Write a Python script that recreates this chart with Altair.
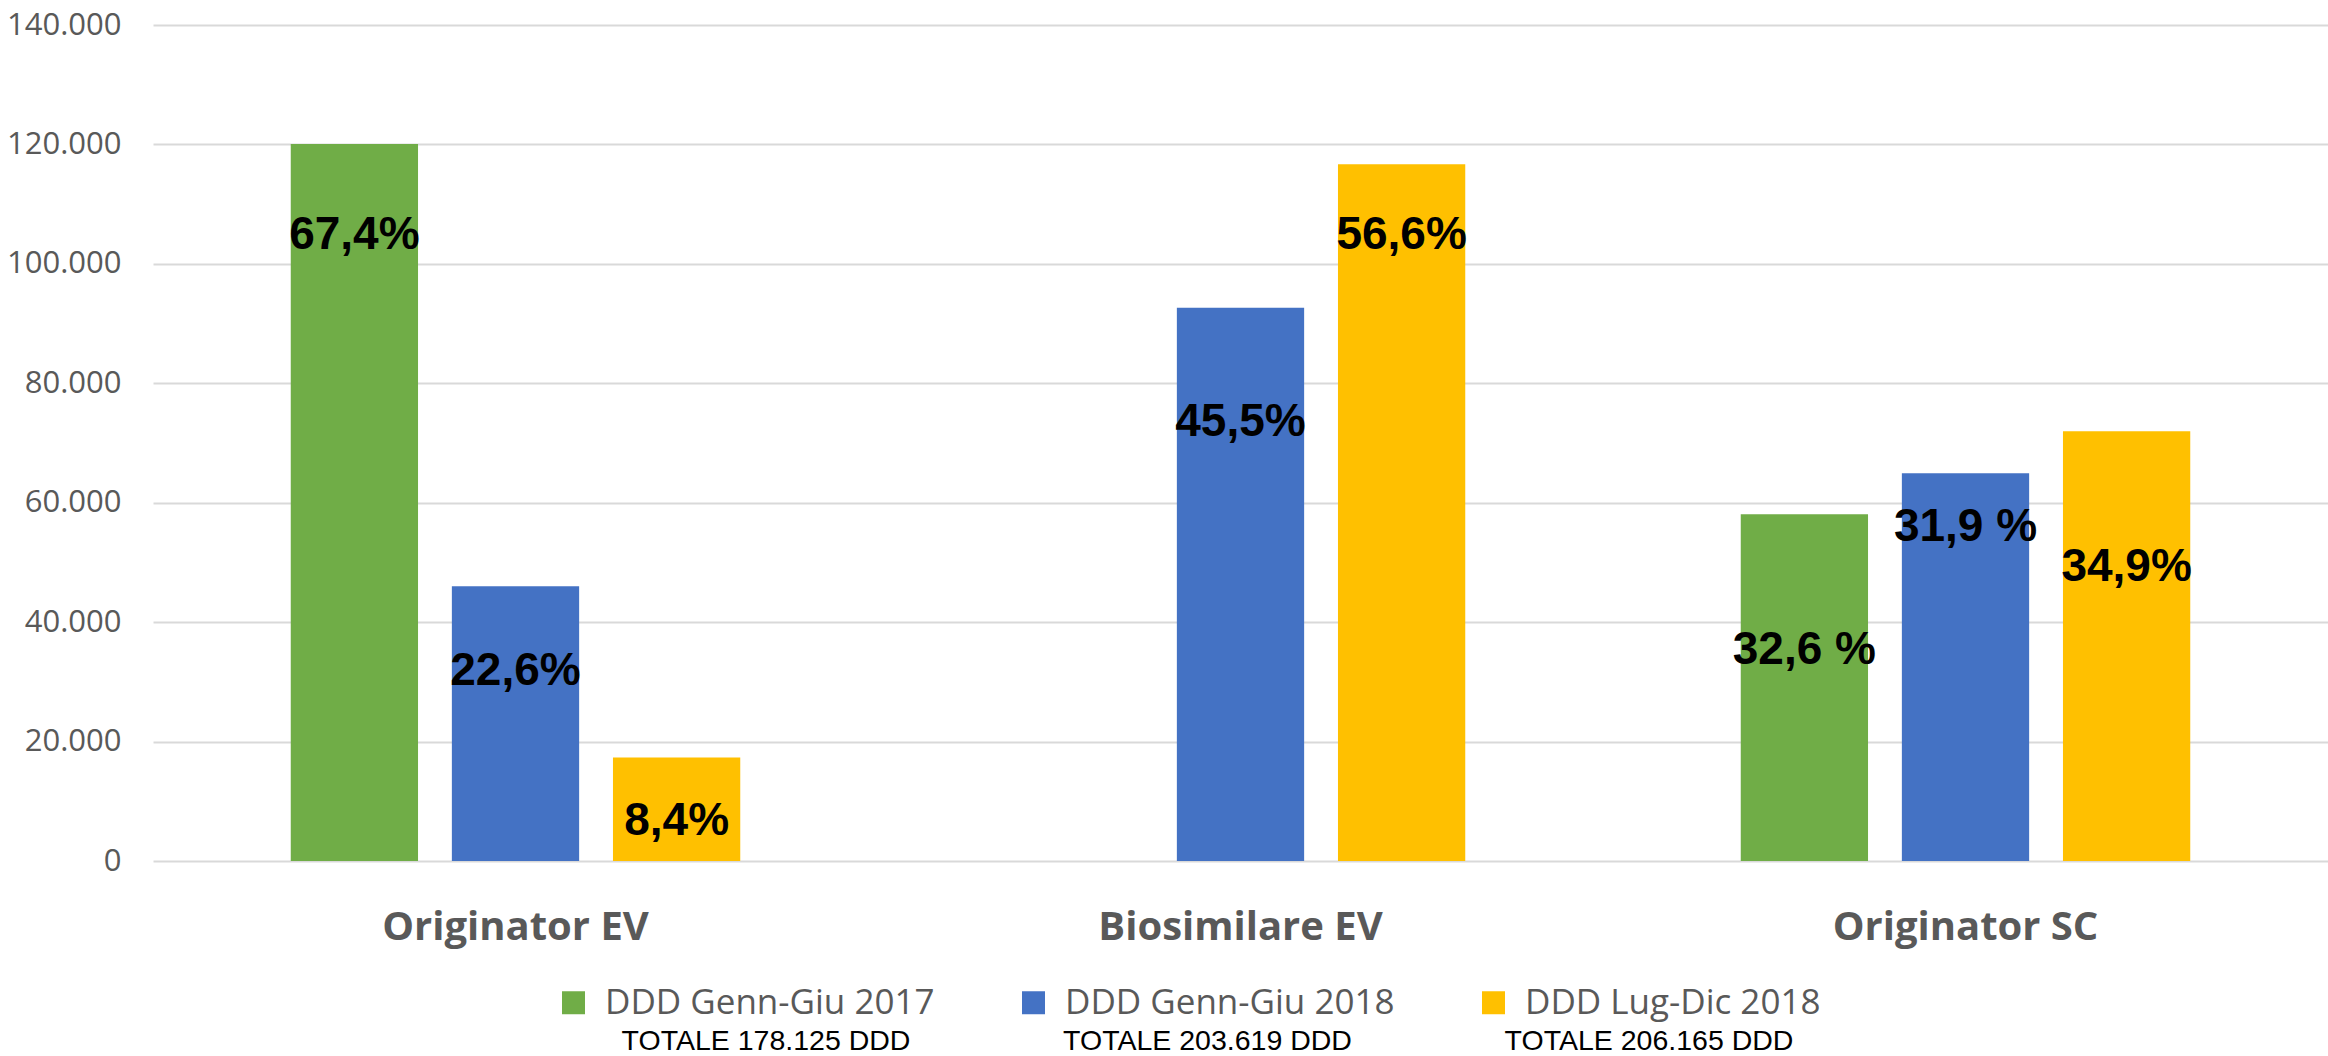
import altair as alt
import pandas as pd

# Categories on the x axis and the three DDD periods
categories = ["Originator EV", "Biosimilare EV", "Originator SC"]
series = ["DDD Genn-Giu 2017", "DDD Genn-Giu 2018", "DDD Lug-Dic 2018"]
colors = ["#70AD47", "#4472C4", "#FFC000"]

# Total DDD per period
totals = [178125, 203619, 206165]

# Share of each period's total per category (None = no consumption)
pct_2017 = [67.4, None, 32.6]
pct_2018_h1 = [22.6, 45.5, 31.9]
pct_2018_h2 = [8.4, 56.6, 34.9]

# Percentage labels as printed
lab_2017 = ["67,4%", None, "32,6 %"]
lab_2018_h1 = ["22,6%", "45,5%", "31,9 %"]
lab_2018_h2 = ["8,4%", "56,6%", "34,9%"]

# DDD level at which each percentage label sits
lev_2017 = [104800, None, 35300]
lev_2018_h1 = [31800, 73500, 55900]
lev_2018_h2 = [6700, 104800, 49200]

rows = []
for name, total, pcts, labs, levs in zip(
    series,
    totals,
    [pct_2017, pct_2018_h1, pct_2018_h2],
    [lab_2017, lab_2018_h1, lab_2018_h2],
    [lev_2017, lev_2018_h1, lev_2018_h2],
):
    for cat, p, lab, lev in zip(categories, pcts, labs, levs):
        if p is None:
            continue
        rows.append(
            {"category": cat, "series": name, "ddd": p / 100 * total,
             "label": lab, "level": lev}
        )
df = pd.DataFrame(rows)

tot_df = pd.DataFrame({
    "series": series,
    "text": [f"TOTALE {t:,} DDD".replace(",", ".") for t in totals],
})

GREY = "#595959"

x_scale = alt.Scale(domain=categories, paddingInner=0.38, paddingOuter=0.19)
xoff = alt.XOffset("series:N", sort=series,
                   scale=alt.Scale(domain=series, paddingInner=0.21, paddingOuter=0))
y_scale = alt.Scale(domain=[0, 140000], nice=False, zero=True)
y_axis = alt.Axis(
    title=None,
    values=list(range(0, 140001, 20000)),
    labelExpr="replace(format(datum.value, ','), ',', '.')",
    labelFont="Open Sans", labelFontSize=31, labelColor=GREY,
    labelPadding=32, ticks=False, tickSize=0, domain=False,
    gridColor="#D9D9D9", gridWidth=2,
)

bars = alt.Chart(df).mark_bar().encode(
    x=alt.X("category:N", sort=categories, scale=x_scale,
            axis=alt.Axis(title=None, labelAngle=0, labelFont="Open Sans",
                          labelFontWeight="bold", labelFontSize=40,
                          labelColor=GREY, labelPadding=78,
                          labelBaseline="alphabetic", ticks=False, tickSize=0,
                          domain=False, labelLimit=1000)),
    xOffset=xoff,
    y=alt.Y("ddd:Q", scale=y_scale, axis=y_axis),
    color=alt.Color(
        "series:N", sort=series,
        scale=alt.Scale(domain=series, range=colors),
        legend=alt.Legend(
            title=None, orient="none", legendX=403, legendY=960,
            direction="horizontal", gridAlign="all",
            symbolType="square", symbolSize=529,
            symbolStrokeWidth=0, symbolOpacity=1, labelFont="Open Sans",
            labelFontSize=35, labelColor=GREY, labelOffset=14,
            columnPadding=81, padding=0, labelLimit=1000,
        ),
    ),
)

labels = alt.Chart(df).mark_text(
    font="Liberation Sans", fontWeight="bold", fontSize=46, color="black",
    align="center", baseline="middle",
).encode(
    x=alt.X("category:N", sort=categories, scale=x_scale, axis=None),
    xOffset=xoff,
    y=alt.Y("level:Q", scale=y_scale, axis=y_axis),
    text="label:N",
)

totals_text = alt.Chart(tot_df).mark_text(
    font="Liberation Sans", fontSize=28.5, color="black",
    align="center", baseline="middle",
).encode(
    x=alt.X("series:N", sort=series,
            scale=alt.Scale(type="point", domain=series, range=[613, 1496], padding=0),
            axis=None),
    y=alt.value(1016),
    text="text:N",
)

chart = (
    alt.layer(bars, labels, totals_text)
    .resolve_scale(x="independent")
    .properties(
        width=2175, height=836,
        autosize=alt.AutoSizeParams(type="none"),
        padding={"left": 153, "top": 25, "right": 0, "bottom": 195},
        background="white",
    )
    .configure_view(strokeWidth=0)
)

chart.save("out.html", embed_options={"renderer": "svg", "actions": False})
